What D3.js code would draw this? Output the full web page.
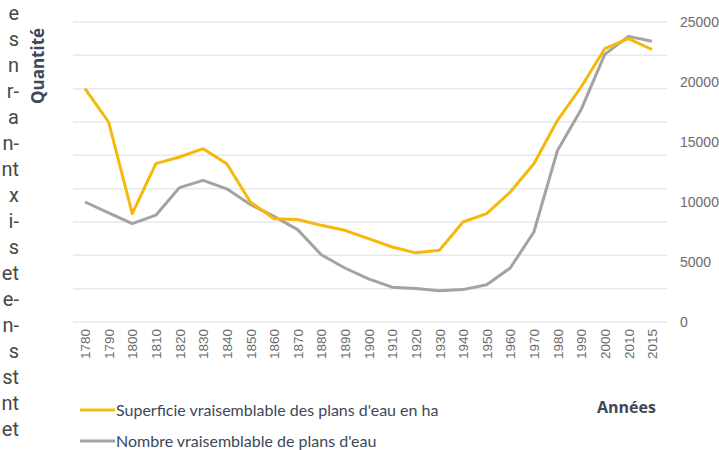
<!DOCTYPE html>
<html lang="fr">
<head>
  <meta charset="UTF-8">
  <title>Plans d'eau</title>
  <style>
    body { margin: 0; background: #fff; }
    svg { display: block; }
    .tick text { font-family: "Liberation Sans", Arial, sans-serif; fill: #6b6b6b; }
  </style>
</head>
<body>
  <svg width="719" height="450"></svg>

  <script src="https://d3js.org/d3.v7.min.js"></script>
  <script>
    // données
    const years = ["1780","1790","1800","1810","1820","1830","1840","1850","1860","1870",
      "1880","1890","1900","1910","1920","1930","1940","1950","1960","1970",
      "1980","1990","2000","2010","2015"];
    // superficie en ha (axe gauche, non affiché)
    const superficie = [14000,12000,6500,9500,9900,10400,9500,7200,6200,6150,
      5800,5500,5000,4500,4150,4300,6000,6500,7800,9500,
      12100,14100,16400,17000,16350];
    // nombre de plans d'eau (axe droit)
    const nombre = [10000,9100,8200,8900,11200,11800,11100,9800,8800,7700,
      5600,4500,3600,2900,2800,2600,2700,3100,4500,7500,
      14300,17700,22300,23800,23400];
    const rightTicks = [0,5000,10000,15000,20000,25000];
    const leftTicks = d3.range(0, 18001, 2000);
    // bout de texte de la colonne voisine
    const sideText = ["e","s","n","r-","a","n-","nt","x","i-","s","et","e-","n-","s","st","nt","et"];

    const svg = d3.select("svg");
    const yellow = "#f4b90a", grey = "#a3a3a3", dark = "#3d4858";

    const x = d3.scalePoint().domain(years).range([85, 652]);
    const yLeft = d3.scaleLinear().domain([0, 18000]).range([322, 22]);
    const yRight = d3.scaleLinear().domain([0, 25000]).range([322, 22]);

    // quadrillage (graduations de l'axe gauche)
    svg.append("g")
      .selectAll("line")
      .data(leftTicks)
      .join("line")
      .attr("x1", 73).attr("x2", 667)
      .attr("y1", d => yLeft(d)).attr("y2", d => yLeft(d))
      .attr("stroke", "#e6e8ec")
      .attr("stroke-width", 1.5);

    // axe droit
    const ax = svg.append("g")
      .attr("transform", "translate(676,0)")
      .call(d3.axisRight(yRight).tickValues(rightTicks).tickSize(0).tickPadding(4).tickFormat(d3.format("d")));
    ax.select(".domain").remove();
    ax.selectAll("text").style("font-size", "14px");

    // axe des années
    const bx = svg.append("g")
      .attr("transform", "translate(0,329)")
      .call(d3.axisBottom(x).tickSize(0));
    bx.select(".domain").remove();
    bx.selectAll("text")
      .attr("x", 0).attr("y", 0).attr("dy", "0.35em")
      .attr("text-anchor", "end")
      .attr("transform", "rotate(-90)")
      .style("font-size", "13.5px");

    const lineL = d3.line().x((d, i) => x(years[i])).y(d => yLeft(d));
    const lineR = d3.line().x((d, i) => x(years[i])).y(d => yRight(d));

    svg.append("path").datum(nombre)
      .attr("d", lineR).attr("fill", "none")
      .attr("stroke", grey).attr("stroke-width", 3).attr("stroke-linejoin", "round");
    svg.append("path").datum(superficie)
      .attr("d", lineL).attr("fill", "none")
      .attr("stroke", yellow).attr("stroke-width", 3).attr("stroke-linejoin", "round");

    // titres d'axes
    svg.append("text")
      .attr("transform", "translate(44,66) rotate(-90)")
      .attr("text-anchor", "middle")
      .style("font-family", "'Open Sans', sans-serif")
      .style("font-weight", "bold").style("font-size", "17px")
      .attr("fill", dark)
      .text("Quantité");

    svg.append("text")
      .attr("x", 597).attr("y", 413)
      .style("font-family", "'Open Sans', sans-serif")
      .style("font-weight", "bold").style("font-size", "16px")
      .attr("fill", dark)
      .text("Années");

    // légende
    const legend = [
      { label: "Superficie vraisemblable des plans d'eau en ha", color: yellow, y: 410 },
      { label: "Nombre vraisemblable de plans d'eau", color: grey, y: 441 }
    ];
    const lg = svg.append("g").selectAll("g").data(legend).join("g");
    lg.append("line")
      .attr("x1", 80).attr("x2", 115)
      .attr("y1", d => d.y).attr("y2", d => d.y)
      .attr("stroke", d => d.color).attr("stroke-width", 3);
    lg.append("text")
      .attr("x", 116).attr("y", d => d.y).attr("dy", "0.35em")
      .style("font-family", "Lato, sans-serif").style("font-size", "16px")
      .attr("fill", dark)
      .text(d => d.label);

    // texte coupé à gauche
    svg.append("g")
      .selectAll("text")
      .data(sideText)
      .join("text")
      .attr("x", 19)
      .attr("y", (d, i) => 20 + i * 26)
      .attr("text-anchor", "end")
      .style("font-family", "Roboto, sans-serif").style("font-size", "20px")
      .attr("fill", "#474747")
      .text(d => d);
  </script>
</body>
</html>
